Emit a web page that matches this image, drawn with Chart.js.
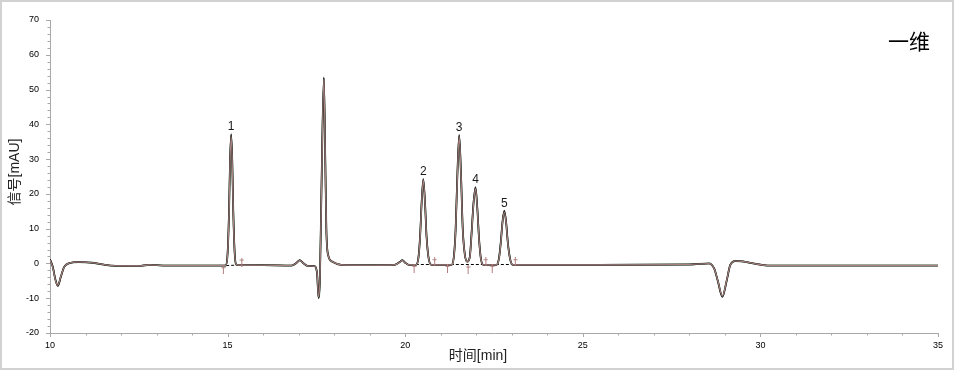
<!DOCTYPE html>
<html>
<head>
<meta charset="utf-8">
<script src="https://cdn.jsdelivr.net/npm/chart.js@4.4.0/dist/chart.umd.min.js"></script>
<style>
  html, body { margin: 0; padding: 0; background: #fff; }
  #wrap { width: 955px; height: 377px; }
</style>
</head>
<body>
<div id="wrap"><canvas id="chromatogram" width="955" height="377"></canvas></div>
<script>
// retention time (min)
const times = [
  10.0, 10.08, 10.15, 10.22, 10.3, 10.4, 10.55, 10.8, 11.2, 11.7, 12.5, 12.8, 13.2, 14.0, 14.95,
  15.0, 15.04, 15.07, 15.1, 15.13, 15.16, 15.2, 15.25, 16.0, 16.8, 16.95, 17.03, 17.12, 17.25,
  17.45, 17.52, 17.56, 17.6, 17.64, 17.71, 17.75, 17.78, 17.83, 17.95, 18.2, 19.0, 19.7, 19.85, 19.92, 20.0, 20.1,
  20.3, 20.37, 20.42, 20.46, 20.51, 20.56, 20.6, 20.66, 20.74, 21.0,
  21.3, 21.37, 21.42, 21.47, 21.52, 21.57, 21.62, 21.68, 21.75,
  21.82, 21.87, 21.92, 21.98, 22.03, 22.08, 22.13, 22.2, 22.4,
  22.57, 22.64, 22.69, 22.74, 22.79, 22.84, 22.89, 22.95, 23.03, 25.0, 28.0, 28.55,
  28.7, 28.8, 28.93, 29.05, 29.15, 29.3, 29.5, 29.8, 30.2, 32.0, 35.0
];

// signal (mAU), three overlaid runs
const signalBlack = [
  1.2, -1, -4.5, -6.5, -4, -1, 0.1, 0.4, 0.2, -0.6, -0.7, -0.4, -0.6, -0.6, -0.6,
  3, 15, 30, 37.2, 30, 15, 3, -0.4, -0.5, -0.6, 0.3, 1.0, 0.2, -0.7,
  -0.8, -3, -10, -4, 20, 53.5, 30, 10, 2.5, 0.5, -0.4, -0.5, -0.4, 0.5, 1.0, 0.2, -0.4,
  -0.4, 1.5, 8, 17, 24.3, 17, 8, 1.5, -0.4, -0.4,
  -0.4, 2, 10, 26, 37, 26, 10, 2.5, 0.5,
  2, 9, 17, 22, 16, 7, 1.5, -0.4, -0.4,
  -0.4, 1.5, 6, 12, 15.2, 12, 6, 1.5, -0.4, -0.4, -0.3, 0,
  -1.5, -5, -9.6, -5, -0.5, 0.7, 0.6, 0, -0.6, -0.6, -0.6
];
const signalGreen = [
  1.1, -1.1, -4.6, -6.4, -4, -1, 0.1, 0.4, 0.2, -0.6, -0.7, -0.4, -0.6, -0.6, -0.6,
  2.8, 14.6, 29.6, 36.8, 29.8, 14.8, 2.9, -0.4, -0.5, -0.6, 0.2, 0.9, 0.2, -0.7,
  -0.8, -3, -9.8, -4, 19.6, 53.2, 29.6, 9.8, 2.4, 0.5, -0.4, -0.5, -0.4, 0.4, 0.9, 0.2, -0.4,
  -0.4, 1.4, 7.8, 16.8, 24.1, 16.9, 7.9, 1.4, -0.4, -0.4,
  -0.4, 1.9, 9.8, 25.7, 36.7, 25.8, 9.9, 2.4, 0.5,
  1.9, 8.8, 16.8, 21.7, 15.8, 6.9, 1.4, -0.4, -0.4,
  -0.4, 1.4, 5.9, 11.9, 15.0, 11.9, 5.9, 1.4, -0.4, -0.4, -0.3, 0,
  -1.5, -5, -9.5, -5, -0.5, 0.7, 0.6, 0, -0.6, -0.6, -0.6
];
const signalRose = [
  1.0, -1.2, -4.7, -6.3, -3.9, -1, 0.1, 0.4, 0.2, -0.6, -0.7, -0.4, -0.6, -0.6, -0.6,
  2.6, 14.2, 29.2, 36.5, 29.5, 14.6, 2.8, -0.4, -0.5, -0.6, 0.2, 0.9, 0.2, -0.7,
  -0.8, -2.9, -9.7, -4, 19.2, 53.0, 29.3, 9.6, 2.4, 0.5, -0.4, -0.5, -0.4, 0.4, 0.9, 0.2, -0.4,
  -0.4, 1.3, 7.6, 16.6, 24.0, 16.8, 7.8, 1.4, -0.4, -0.4,
  -0.4, 1.8, 9.6, 25.4, 36.5, 25.6, 9.8, 2.4, 0.5,
  1.8, 8.6, 16.6, 21.5, 15.7, 6.8, 1.4, -0.4, -0.4,
  -0.4, 1.3, 5.8, 11.8, 14.8, 11.8, 5.8, 1.4, -0.4, -0.4, -0.3, 0,
  -1.5, -4.9, -9.4, -4.9, -0.5, 0.7, 0.6, 0, -0.6, -0.6, -0.6
];

// peak start / end markers
const markerTimes = [14.88, 15.4, 20.25, 20.83, 21.19, 21.77, 22.27, 22.45, 23.1];
const markerValues = [-1.8, 0.4, -1.4, 0.5, -1.4, -1.6, 0.5, -1.4, 0.5];

// integration baselines (null = gap)
const baselineTimes = [14.96, 15.25, 17.0, 20.3, 23.03];
const baselineValues = [-0.6, -0.5, null, -0.3, -0.3];

// peak numbering
const peakTimes = [15.1, 20.51, 21.52, 21.98, 22.79];
const peakHeights = [37.2, 24.3, 37, 22, 15.2];
const peakLabels = ["1", "2", "3", "4", "5"];

const xTickLabels = [10, 15, 20, 25, 30, 35];
const yTickLabels = [-20, -10, 0, 10, 20, 30, 40, 50, 60, 70];

const chartTitle = "一维";
const xTitle = "时间[min]";
const yTitle = "信号[mAU]";

function toPoints(xs, ys) {
  return xs.map(function (x, i) { return { x: x, y: ys[i] }; });
}

function makeDagger() {
  const c = document.createElement("canvas");
  c.width = 5; c.height = 9;
  const g = c.getContext("2d");
  g.strokeStyle = "#b07e7e";
  g.lineWidth = 1;
  g.beginPath();
  g.moveTo(2.5, 0); g.lineTo(2.5, 9);
  g.moveTo(0.5, 2.5); g.lineTo(4.5, 2.5);
  g.stroke();
  return c;
}

const decorations = {
  id: "decorations",
  afterDraw(chart) {
    const ctx = chart.ctx;
    const xs = chart.scales.x, ys = chart.scales.y;
    const area = chart.chartArea;
    ctx.save();
    // tick marks
    ctx.strokeStyle = "#a8a8a8";
    ctx.lineWidth = 1;
    ctx.beginPath();
    for (let v = -20; v <= 70; v += 2) {
      const py = Math.round(ys.getPixelForValue(v)) + 0.5;
      const len = (v % 10 === 0) ? 4 : 2.5;
      ctx.moveTo(area.left, py); ctx.lineTo(area.left - len, py);
    }
    for (let t = 10; t <= 35; t += 1) {
      const px = Math.round(xs.getPixelForValue(t)) + 0.5;
      const len = (t % 5 === 0) ? 4 : 2.5;
      ctx.moveTo(px, area.bottom); ctx.lineTo(px, area.bottom + len);
    }
    ctx.stroke();

    // peak numbers
    ctx.fillStyle = "#1a1a1a";
    ctx.font = "12px 'Liberation Sans', Arial, sans-serif";
    ctx.textAlign = "center";
    ctx.textBaseline = "alphabetic";
    peakTimes.forEach(function (t, i) {
      ctx.fillText(peakLabels[i], xs.getPixelForValue(t), ys.getPixelForValue(peakHeights[i]) - 4);
    });

    // title
    ctx.fillStyle = "#000";
    ctx.font = "21px 'Noto Sans CJK SC', sans-serif";
    ctx.textBaseline = "middle";
    ctx.fillText(chartTitle, 909, 41);

    // axis titles
    ctx.font = "14px 'Liberation Sans', 'Noto Sans CJK SC', sans-serif";
    ctx.fillStyle = "#222";
    ctx.fillText(xTitle, 478, 356);
    ctx.save();
    ctx.translate(15, 172);
    ctx.rotate(-Math.PI / 2);
    ctx.fillText(yTitle, 0, 0);
    ctx.restore();

    // outer frame
    ctx.strokeStyle = "#d2d2d2";
    ctx.lineWidth = 2;
    ctx.strokeRect(1, 1, 952, 368);
    ctx.restore();
  }
};

const ctx = document.getElementById("chromatogram").getContext("2d");
new Chart(ctx, {
  type: "line",
  data: {
    datasets: [
      {
        label: "markers",
        type: "scatter",
        data: toPoints(markerTimes, markerValues),
        pointStyle: makeDagger(),
        pointRadius: 4,
        order: 0
      },
      {
        label: "run 3",
        data: toPoints(times, signalRose),
        borderColor: "#a98483",
        borderWidth: 1.1,
        pointRadius: 0,
        cubicInterpolationMode: "monotone",
        order: 1
      },
      {
        label: "run 1",
        data: toPoints(times, signalBlack),
        borderColor: "#1a1a1a",
        borderWidth: 1.6,
        pointRadius: 0,
        cubicInterpolationMode: "monotone",
        order: 2
      },
      {
        label: "run 2",
        data: toPoints(times, signalGreen),
        borderColor: "#2f4f2f",
        borderWidth: 1.8,
        pointRadius: 0,
        cubicInterpolationMode: "monotone",
        order: 3
      },
      {
        label: "baseline",
        data: toPoints(baselineTimes, baselineValues),
        borderColor: "#000",
        borderWidth: 1,
        borderDash: [3, 2],
        pointRadius: 0,
        spanGaps: false,
        order: 4
      }
    ]
  },
  options: {
    responsive: false,
    animation: false,
    devicePixelRatio: 1,
    layout: { padding: { top: 20, right: 17, left: 0, bottom: 0 } },
    plugins: {
      legend: { display: false },
      tooltip: { enabled: false }
    },
    scales: {
      x: {
        type: "linear",
        min: 10,
        max: 35,
        afterBuildTicks: function (scale) {
          scale.ticks = xTickLabels.map(function (v) { return { value: v }; });
        },
        afterFit: function (scale) { scale.height = 44; },
        ticks: {
          color: "#000",
          font: { family: "'Liberation Sans', Arial, sans-serif", size: 9 },
          padding: 7,
          maxRotation: 0,
          autoSkip: false
        },
        grid: { display: false, drawTicks: false },
        border: { display: true, color: "#a8a8a8", width: 1 }
      },
      y: {
        min: -20,
        max: 70,
        afterBuildTicks: function (scale) {
          scale.ticks = yTickLabels.map(function (v) { return { value: v }; });
        },
        afterFit: function (scale) { scale.width = 50; },
        ticks: {
          color: "#000",
          font: { family: "'Liberation Sans', Arial, sans-serif", size: 9 },
          padding: 11,
          autoSkip: false
        },
        grid: { display: false, drawTicks: false },
        border: { display: true, color: "#a8a8a8", width: 1 }
      }
    }
  },
  plugins: [decorations]
});
</script>
</body>
</html>
